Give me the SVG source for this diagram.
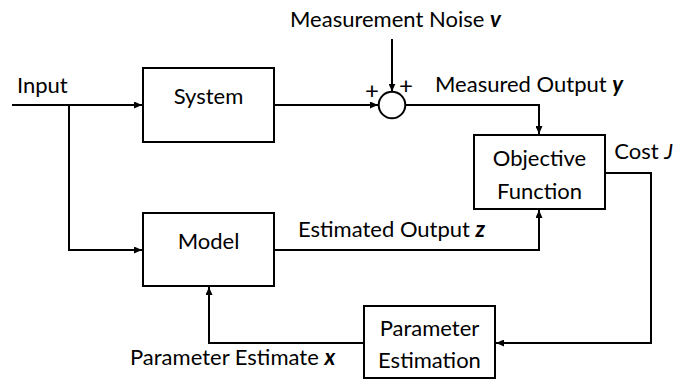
<svg xmlns="http://www.w3.org/2000/svg" width="678" height="379" viewBox="0 0 678 379">
<defs>
<style>
text{font-family:Lato,"Open Sans","Liberation Sans",sans-serif;font-size:22px;fill:#000}
.box{fill:#fff;stroke:#000;stroke-width:2}
.ln{fill:none;stroke:#000;stroke-width:2}
.c{text-anchor:middle}
.v{font-weight:bold;font-style:italic}
.p{font-size:24px}
</style>
<marker id="ah" viewBox="0 0 8 7" refX="8" refY="3.5" markerWidth="8" markerHeight="7" orient="auto" markerUnits="userSpaceOnUse">
<path d="M0,0 L8,3.5 L0,7 z" fill="#000"/>
</marker>
</defs>
<rect width="678" height="379" fill="#fff"/>
<g id="connectors">
<path class="ln" d="M12,105 H142" marker-end="url(#ah)"/>
<path class="ln" d="M69,105 V250 H142" marker-end="url(#ah)"/>
<path class="ln" d="M274,105 H378" marker-end="url(#ah)"/>
<path class="ln" d="M392,39 V91.5" marker-end="url(#ah)"/>
<path class="ln" d="M405.3,105 H539 V134" marker-end="url(#ah)"/>
<path class="ln" d="M274,250 H539 V210" marker-end="url(#ah)"/>
<path class="ln" d="M605,173 H651 V343 H496" marker-end="url(#ah)"/>
<path class="ln" d="M364,343 H209 V287" marker-end="url(#ah)"/>
</g>
<g id="system"><rect class="box" x="143" y="68" width="131" height="74"/><text class="c" x="208.5" y="104">System</text></g>
<g id="model"><rect class="box" x="143" y="213" width="131" height="73"/><text class="c" x="208.5" y="249">Model</text></g>
<g id="sum"><circle class="box" cx="392" cy="105" r="13.3"/><text class="c p" x="372" y="99">+</text><text class="c p" x="406" y="94">+</text></g>
<g id="objective"><rect class="box" x="474" y="135" width="131" height="74"/><text class="c" x="539.5" y="166">Objective</text><text class="c" x="539.5" y="199">Function</text></g>
<g id="estimation"><rect class="box" x="364" y="306" width="131" height="72"/><text class="c" x="429.5" y="336">Parameter</text><text class="c" x="429.5" y="368">Estimation</text></g>
<g id="labels">
<text x="17" y="93">Input</text>
<text x="290" y="27">Measurement Noise <tspan class="v">v</tspan></text>
<text x="435" y="92">Measured Output <tspan class="v">y</tspan></text>
<text x="673" y="159" text-anchor="end">Cost <tspan font-style="italic">J</tspan></text>
<text x="298" y="237">Estimated Output <tspan class="v">z</tspan></text>
<text x="130" y="365">Parameter Estimate <tspan class="v">x</tspan></text>
</g>
</svg>
